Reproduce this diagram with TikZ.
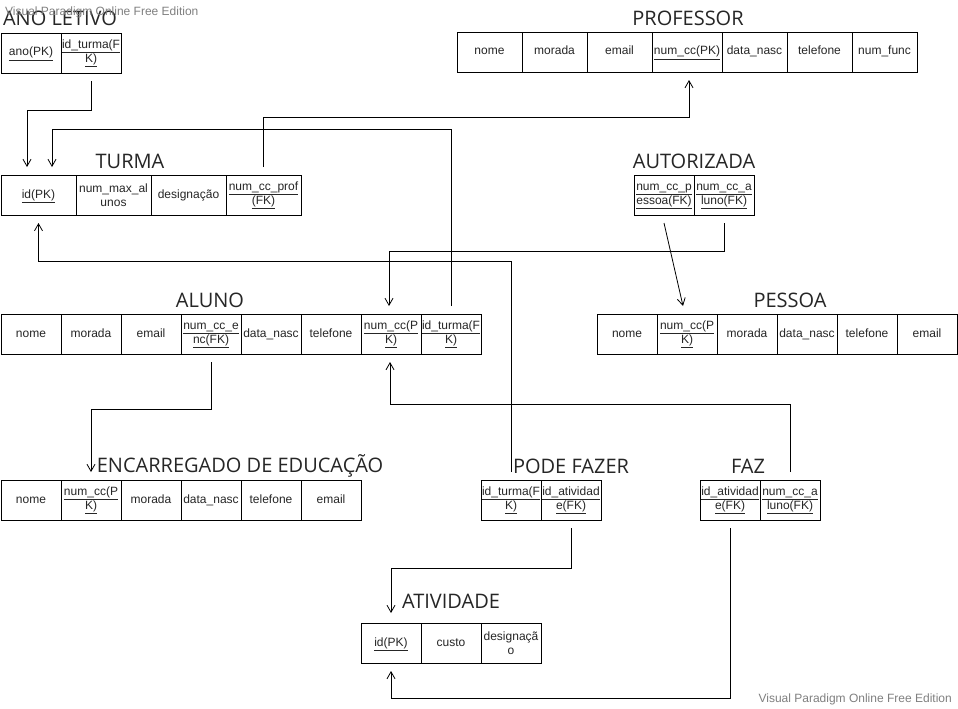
\documentclass[tikz,border=0pt]{standalone}
\usepackage{fontspec}
\setmainfont{Liberation Sans}
\newfontfamily\titlefont{Open Sans}
\usetikzlibrary{arrows.meta}
\newcommand\ulx[1]{\underline{#1\vphantom{(p}}}
\begin{document}
\begin{tikzpicture}[x=1pt,y=-1pt,
  cell/.style={draw=black, line width=0.8pt, minimum height=40pt, minimum width=60pt,
    inner sep=1pt, outer sep=0pt, anchor=north west, align=center,
    text height=9pt, text depth=3pt,
    font=\fontsize{12}{14}\selectfont, text=black!85},
  ml/.style={text height={}, text depth={}},
  wide/.style={minimum width=65pt},
  wider/.style={minimum width=70pt},
  tw/.style={minimum width=75pt},
  ttl/.style={font=\titlefont\fontsize{20}{23}\selectfont, text=black!85, inner sep=0pt},
  wm/.style={font=\fontsize{12}{14}\selectfont, text=black!50, inner sep=0pt},
  fk/.style={draw=black, line width=0.8pt, -{Straight Barb[length=7pt,width=8pt,line width=0.8pt]}}
]
\useasboundingbox[fill=white] (0,0) rectangle (958,709);

% ANO LETIVO
\node[ttl] (tAL) at (60,18) {ANO LETIVO};
\node[cell] (al1) at (1,33) {\ulx{ano(PK)}};
\node[cell,ml] (al2) at (61,33) {\ulx{id\_turma(F}\\\ulx{K)}};

% PROFESSOR
\node[ttl] (tPR) at (688,18) {PROFESSOR};
\node[cell,wide] (pr1) at (457,32) {nome};
\node[cell,wide] (pr2) at (522,32) {morada};
\node[cell,wide] (pr3) at (587,32) {email};
\node[cell,wider] (pr4) at (652,32) {\ulx{num\_cc(PK)}};
\node[cell,wide] (pr5) at (722,32) {data\_nasc};
\node[cell,wide] (pr6) at (787,32) {telefone};
\node[cell,wide] (pr7) at (852,32) {num\_func};

% TURMA
\node[ttl] (tTU) at (130,161) {TURMA};
\node[cell,tw] (tu1) at (1,175) {\ulx{id(PK)}};
\node[cell,tw,ml] (tu2) at (76,175) {num\_max\_al\\unos};
\node[cell,tw] (tu3) at (151,175) {designação};
\node[cell,tw,ml] (tu4) at (226,175) {\ulx{num\_cc\_prof}\\\ulx{(FK)}};

% AUTORIZADA
\node[ttl] (tAU) at (694,161) {AUTORIZADA};
\node[cell,ml] (au1) at (634,175) {\ulx{num\_cc\_p}\\\ulx{essoa(FK)}};
\node[cell,ml] (au2) at (694,175) {\ulx{num\_cc\_a}\\\ulx{luno(FK)}};

% ALUNO
\node[ttl] (tAN) at (210,300) {ALUNO};
\node[cell] (an1) at (1,314) {nome};
\node[cell] (an2) at (61,314) {morada};
\node[cell] (an3) at (121,314) {email};
\node[cell,ml] (an4) at (181,314) {\ulx{num\_cc\_e}\\\ulx{nc(FK)}};
\node[cell] (an5) at (241,314) {data\_nasc};
\node[cell] (an6) at (301,314) {telefone};
\node[cell,ml] (an7) at (361,314) {\ulx{num\_cc(P}\\\ulx{K)}};
\node[cell,ml] (an8) at (421,314) {\ulx{id\_turma(F}\\\ulx{K)}};

% PESSOA
\node[ttl] (tPE) at (790,300) {PESSOA};
\node[cell] (pe1) at (597,314) {nome};
\node[cell,ml] (pe2) at (657,314) {\ulx{num\_cc(P}\\\ulx{K)}};
\node[cell] (pe3) at (717,314) {morada};
\node[cell] (pe4) at (777,314) {data\_nasc};
\node[cell] (pe5) at (837,314) {telefone};
\node[cell] (pe6) at (897,314) {email};

% ENCARREGADO DE EDUCACAO
\node[ttl] (tEN) at (240,466) {ENCARREGADO DE EDUCAÇÃO};
\node[cell] (en1) at (1,480) {nome};
\node[cell,ml] (en2) at (61,480) {\ulx{num\_cc(P}\\\ulx{K)}};
\node[cell] (en3) at (121,480) {morada};
\node[cell] (en4) at (181,480) {data\_nasc};
\node[cell] (en5) at (241,480) {telefone};
\node[cell] (en6) at (301,480) {email};

% PODE FAZER
\node[ttl] (tPF) at (571,466) {PODE FAZER};
\node[cell,ml] (pf1) at (481,480) {\ulx{id\_turma(F}\\\ulx{K)}};
\node[cell,ml] (pf2) at (541,480) {\ulx{id\_atividad}\\\ulx{e(FK)}};

% FAZ
\node[ttl] (tFZ) at (748,466) {FAZ};
\node[cell,ml] (fz1) at (700,480) {\ulx{id\_atividad}\\\ulx{e(FK)}};
\node[cell,ml] (fz2) at (760,480) {\ulx{num\_cc\_a}\\\ulx{luno(FK)}};

% ATIVIDADE
\node[ttl] (tAT) at (451,601) {ATIVIDADE};
\node[cell] (at1) at (361,623) {\ulx{id(PK)}};
\node[cell] (at2) at (421,623) {custo};
\node[cell,ml] (at3) at (481,623) {designaçã\\o};

% watermarks
\node[wm,anchor=west] (wm1) at (5,12) {Visual Paradigm Online Free Edition};
\node[wm,anchor=east] (wm2) at (952,699) {Visual Paradigm Online Free Edition};

% connectors
\draw[fk] ([yshift=-8pt]al2.south) -- ++(0,29) -| ([xshift=-11.5pt,yshift=8pt]tu1.north);
\draw[fk] ([yshift=8pt]tu4.north) |- ([xshift=2pt,yshift=-45pt]pr4.south) -- ([xshift=2pt,yshift=-8pt]pr4.south);
\draw[fk] ([yshift=8pt]an8.north) -- ++(0,-177) -| ([xshift=13.5pt,yshift=8pt]tu1.north);
\draw[fk] ([yshift=8pt]pf1.north) -- ++(0,-211) -| ([yshift=-8pt]tu1.south);
\draw[fk] ([yshift=-8pt]au2.south) -- ++(0,28) -| ([xshift=-2pt,yshift=8pt]an7.north);
\draw[fk] ([yshift=-8pt]au1.south) -- ([xshift=-4pt,yshift=8pt]pe2.north);
\draw[fk] ([yshift=-8pt]an4.south) -- ++(0,47) -| ([yshift=8pt]en2.north);
\draw[fk] ([yshift=8pt]fz2.north) -- ++(0,-68) -| ([xshift=-1pt,yshift=-8pt]an7.south);
\draw[fk] ([yshift=-8pt]pf2.south) -- ++(0,40) -| ([yshift=10pt]at1.north);
\draw[fk] ([yshift=-8pt]fz1.south) -- ++(0,170) -| ([yshift=-8pt]at1.south);
\end{tikzpicture}
\end{document}
